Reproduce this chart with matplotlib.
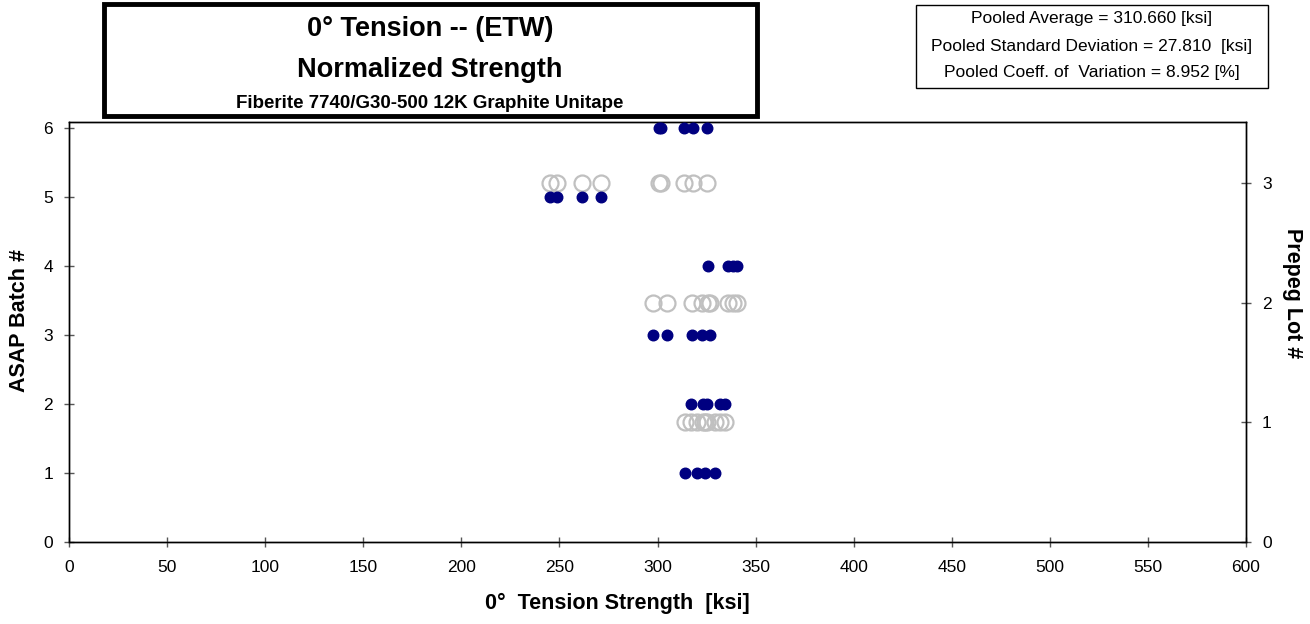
import numpy as np
import matplotlib
matplotlib.use("Agg")
import matplotlib.pyplot as plt
from matplotlib.patches import Rectangle

plt.rcParams['font.family'] = ['Liberation Sans', 'DejaVu Sans']

# strength values [ksi] per ASAP batch
batch1 = [314.0, 320.0, 324.2, 329.3]
batch2 = [317.1, 323.4, 325.4, 331.9, 334.4]
batch3 = [297.5, 304.7, 317.4, 322.5, 326.8]
batch4 = [325.6, 336.1, 338.6, 340.7]
batch5 = [245.2, 248.9, 261.7, 271.2]
batch6 = [301.0, 301.8, 313.7, 318.3, 325.1]
batches = [batch1, batch2, batch3, batch4, batch5, batch6]
batch_ids = [1, 2, 3, 4, 5, 6]

# prepreg lots: lot 1 = batches 1+2, lot 2 = batches 3+4, lot 3 = batches 5+6
lots = [batch1 + batch2, batch3 + batch4, batch5 + batch6]
lot_ids = [1, 2, 3]

stats_lines = ["Pooled Average = 310.660 [ksi]",
               "Pooled Standard Deviation = 27.810  [ksi]",
               "Pooled Coeff. of  Variation = 8.952 [%]"]

W, H = 1310, 624
fig = plt.figure(figsize=(W / 100, H / 100), dpi=100)

def px(x0, y0, x1, y1):
    # pixel box (top-left origin) -> figure fraction rect
    return [x0 / W, 1 - y1 / H, (x1 - x0) / W, (y1 - y0) / H]

ax = fig.add_axes(px(69, 122, 1246, 541.7))
ax2 = ax.twinx()

# open circles by prepreg lot (right axis)
for lid, vals in zip(lot_ids, lots):
    ax2.plot(vals, [lid] * len(vals), linestyle='none', marker='o', ms=11.5,
             mfc='none', mec='#c0c0c0', mew=1.6, clip_on=False)

# filled dots by batch (left axis)
for bid, vals in zip(batch_ids, batches):
    ax.plot(vals, [bid] * len(vals), linestyle='none', marker='o', ms=7.6,
            mfc='#000080', mec='#000080', clip_on=False, zorder=5)
ax.set_zorder(ax2.get_zorder() + 1)
ax.patch.set_visible(False)

ax.set_xlim(0, 600)
ax.set_xticks(np.arange(0, 601, 50))
ax.set_ylim(0, 6.087)
ax.set_yticks(range(0, 7))
ax2.set_ylim(0, 3.515)
ax2.set_yticks(range(0, 4))

for a in (ax, ax2):
    a.tick_params(direction='inout', length=7, width=1, color='#555555',
                  labelsize=12.5, pad=8)
    for s in a.spines.values():
        s.set_color('black')
        s.set_linewidth(1)
ax.tick_params(axis='x', pad=10)

fig.text(617 / W, 1 - 603 / H, "0°  Tension Strength  [ksi]", ha='center',
         va='center', fontsize=15.5, fontweight='bold')
fig.text(20 / W, 1 - 320 / H, "ASAP Batch #", ha='center', va='center',
         rotation=90, fontsize=15.5, fontweight='bold')
fig.text(1293 / W, 1 - 293 / H, "Prepeg Lot #", ha='center', va='center',
         rotation=-90, fontsize=15.5, fontweight='bold')

# title box
fig.patches.append(Rectangle((104 / W, 1 - 116 / H), (757 - 104) / W,
                             (116 - 4) / H, transform=fig.transFigure,
                             fill=True, facecolor='white', edgecolor='black',
                             linewidth=3.5, zorder=10))
fig.text(430 / W, 1 - 29 / H, "0° Tension -- (ETW)", ha='center', va='center',
         fontsize=19.5, fontweight='bold', zorder=11)
fig.text(430 / W, 1 - 70 / H, "Normalized Strength", ha='center', va='center',
         fontsize=19.5, fontweight='bold', zorder=11)
fig.text(430 / W, 1 - 104 / H, "Fiberite 7740/G30-500 12K Graphite Unitape",
         ha='center', va='center', fontsize=13.5, fontweight='bold', zorder=11)

# stats box
fig.patches.append(Rectangle((916 / W, 1 - 88 / H), (1268 - 916) / W,
                             (88 - 5) / H, transform=fig.transFigure,
                             fill=True, facecolor='white', edgecolor='black',
                             linewidth=1, zorder=10))
for yy, line in zip([19, 46, 72], stats_lines):
    fig.text(1092 / W, 1 - yy / H, line, ha='center', va='center',
             fontsize=12.5, zorder=11)

fig.savefig("out.png", dpi=100)
